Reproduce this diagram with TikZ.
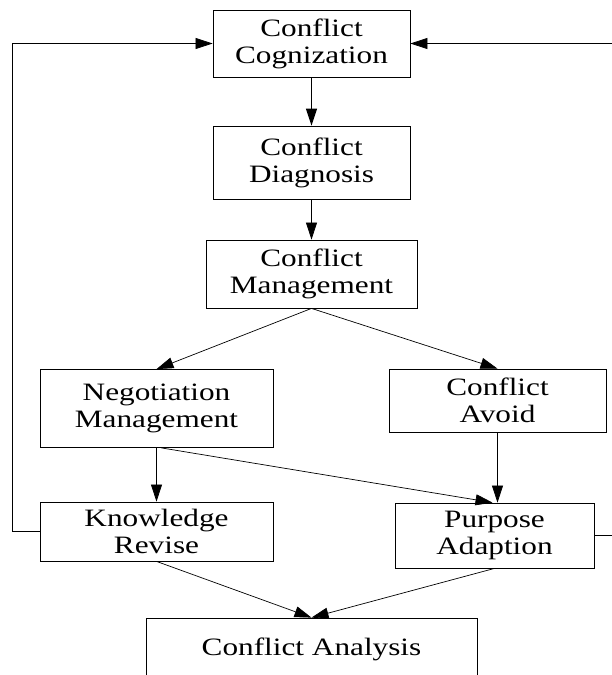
\documentclass[tikz,border=0pt]{standalone}
\usepackage{fontspec}
\setmainfont{Liberation Serif}[FakeStretch=1.25]
\usetikzlibrary{arrows.meta}
\tikzset{
  box/.style={draw=black, line width=0.8pt, inner sep=0pt, align=center,
    font=\fontsize{25}{27}\selectfont},
  conn/.style={line width=0.7pt, -{Triangle[length=17pt,width=11pt]}},
}
\begin{document}
\begin{tikzpicture}[x=1pt,y=-1pt]
\useasboundingbox (0,0) rectangle (612,675);
\clip (0,0) rectangle (612,675);
\node[box, minimum width=197pt, minimum height=67pt] (cog) at (311.5,43.5) {Conflict\\Cognization};
\node[box, minimum width=197pt, minimum height=73pt] (diag) at (311.5,162.5) {Conflict\\Diagnosis};
\node[box, minimum width=211pt, minimum height=68pt] (mgmt) at (311.5,274) {Conflict\\Management};
\node[box, minimum width=233pt, minimum height=78pt] (neg) at (156.5,408.5) {Negotiation\\Management};
\node[box, minimum width=217pt, minimum height=63pt] (avoid) at (497.5,400.5) {Conflict\\Avoid};
\node[box, minimum width=233pt, minimum height=59pt] (know) at (156.5,531.5) {Knowledge\\Revise};
\node[box, minimum width=199pt, minimum height=65pt] (purp) at (494.5,535.5) {Purpose\\Adaption};
\node[box, minimum width=331pt, minimum height=62pt] (anal) at (311.5,649) {Conflict Analysis};
\coordinate (lft) at (12,531.5);
\coordinate (rgt) at (630,535.5);

\draw[conn, line width=1.3pt] (cog.south) -- (diag.north);
\draw[conn] (diag.south) -- (mgmt.north);
\draw[conn] (mgmt.south) -- (neg.north);
\draw[conn] (mgmt.south) -- (avoid.north);
\draw[conn] (neg.south) -- (know.north);
\draw[conn] ([xshift=5pt]neg.south) -- ([xshift=-2pt]purp.north);
\draw[conn] (avoid.south) -- (avoid.south |- purp.north);
\draw[conn] (know.south) -- (anal.north);
\draw[conn] (purp.south) -- (anal.north);
\draw[conn] (know.west) -- (lft) |- (cog.west);
\draw[conn] (purp.east) -- (rgt) |- (cog.east);
\end{tikzpicture}
\end{document}
